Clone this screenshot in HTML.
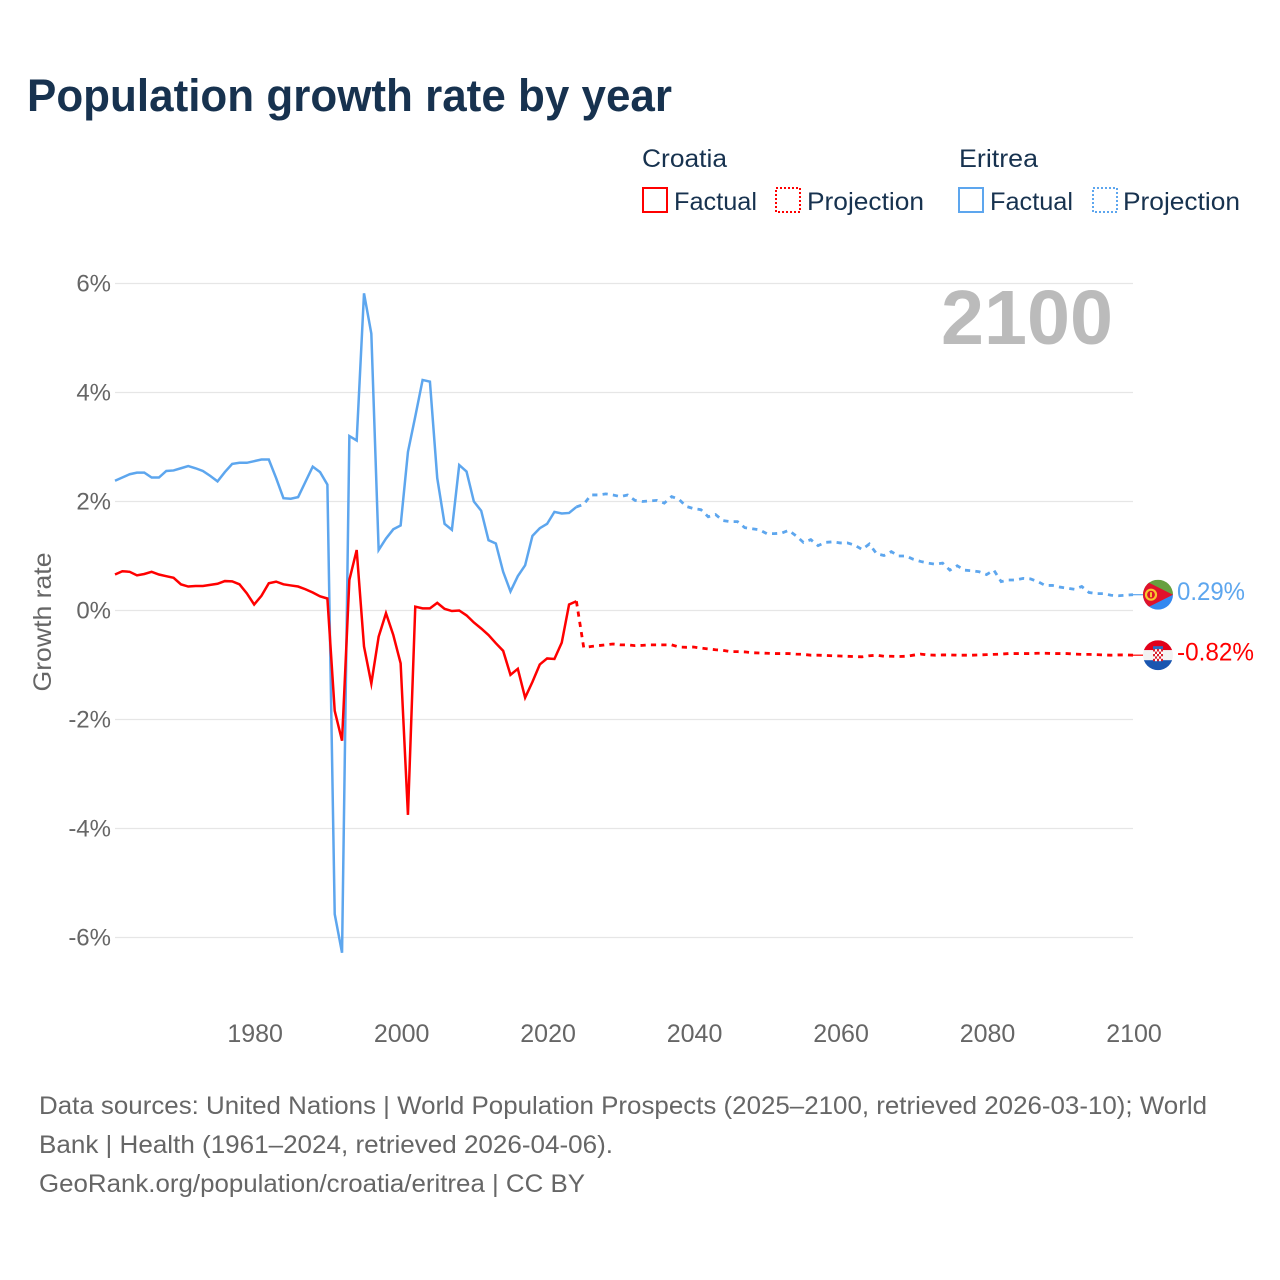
<!DOCTYPE html>
<html lang="en">
<head>
<meta charset="utf-8">
<title>Population growth rate by year</title>
<style>
html,body{margin:0;padding:0;background:#fff;}
svg{display:block;font-family:"Liberation Sans",sans-serif;}
</style>
</head>
<body>
<svg id="chart" width="1280" height="1280" viewBox="0 0 1280 1280" xmlns="http://www.w3.org/2000/svg">
  <rect width="1280" height="1280" fill="#ffffff"/>
  <text x="27" y="111" font-size="45" font-weight="700" fill="#17324f" textLength="645" lengthAdjust="spacingAndGlyphs">Population growth rate by year</text>

  <g font-size="25" fill="#17324f">
    <text x="642" y="167" textLength="85" lengthAdjust="spacingAndGlyphs">Croatia</text>
    <rect x="643" y="188" width="24" height="24" fill="none" stroke="#ff0000" stroke-width="2"/>
    <text x="674" y="210" textLength="83" lengthAdjust="spacingAndGlyphs">Factual</text>
    <rect x="776" y="188" width="24" height="24" fill="none" stroke="#ff0000" stroke-width="2" stroke-dasharray="2 2"/>
    <text x="807" y="210" textLength="117" lengthAdjust="spacingAndGlyphs">Projection</text>
    <text x="959" y="167" textLength="79" lengthAdjust="spacingAndGlyphs">Eritrea</text>
    <rect x="959" y="188" width="24" height="24" fill="none" stroke="#5da6ee" stroke-width="2"/>
    <text x="990" y="210" textLength="83" lengthAdjust="spacingAndGlyphs">Factual</text>
    <rect x="1093" y="188" width="24" height="24" fill="none" stroke="#5da6ee" stroke-width="2" stroke-dasharray="2 2"/>
    <text x="1123" y="210" textLength="117" lengthAdjust="spacingAndGlyphs">Projection</text>
  </g>

  <g id="grid"></g>
  <g id="yticks" font-size="24" fill="#666666" text-anchor="end"></g>
  <g id="xticks" font-size="25" fill="#666666" text-anchor="middle"></g>

  <text transform="translate(51 622) rotate(-90)" font-size="25" fill="#666666" text-anchor="middle" textLength="139" lengthAdjust="spacingAndGlyphs">Growth rate</text>
  <text x="941" y="344" font-size="77" font-weight="700" fill="#bbbbbb" textLength="172" lengthAdjust="spacingAndGlyphs">2100</text>

  <g id="series"></g>
  <g id="ends"></g>

  <g font-size="25" fill="#666666">
    <text x="39" y="1114" textLength="1168" lengthAdjust="spacingAndGlyphs">Data sources: United Nations | World Population Prospects (2025–2100, retrieved 2026-03-10); World</text>
    <text x="39" y="1153" textLength="574" lengthAdjust="spacingAndGlyphs">Bank | Health (1961–2024, retrieved 2026-04-06).</text>
    <text x="39" y="1192" textLength="546" lengthAdjust="spacingAndGlyphs">GeoRank.org/population/croatia/eritrea | CC BY</text>
  </g>
</svg>
<script>
const yTickValues = [6, 4, 2, 0, -2, -4, -6];
const xTickYears = [1980, 2000, 2020, 2040, 2060, 2080, 2100];
const factualStartYear = 1961;
const projectionStartYear = 2024;

const croatiaFactual = [0.66,0.72,0.71,0.645,0.67,0.71,0.66,0.63,0.60,0.48,0.44,0.45,0.45,0.47,0.49,0.54,0.535,0.48,0.315,0.11,0.27,0.50,0.53,0.48,0.46,0.44,0.39,0.33,0.26,0.22,-1.84,-2.39,0.56,1.11,-0.66,-1.34,-0.48,-0.05,-0.45,-0.97,-3.75,0.07,0.04,0.04,0.14,0.03,-0.01,0.00,-0.09,-0.22,-0.33,-0.45,-0.60,-0.74,-1.18,-1.07,-1.60,-1.31,-0.99,-0.88,-0.89,-0.59,0.11,0.17];
const croatiaProjection = [0.17,-0.68,-0.66,-0.645,-0.63,-0.615,-0.63,-0.63,-0.645,-0.64,-0.63,-0.63,-0.63,-0.63,-0.67,-0.675,-0.67,-0.69,-0.705,-0.72,-0.73,-0.755,-0.755,-0.76,-0.775,-0.78,-0.785,-0.79,-0.79,-0.79,-0.80,-0.805,-0.82,-0.82,-0.825,-0.83,-0.835,-0.84,-0.845,-0.85,-0.83,-0.82,-0.84,-0.84,-0.845,-0.84,-0.82,-0.80,-0.815,-0.82,-0.815,-0.815,-0.82,-0.82,-0.82,-0.815,-0.81,-0.805,-0.80,-0.79,-0.79,-0.79,-0.79,-0.785,-0.785,-0.79,-0.79,-0.79,-0.80,-0.805,-0.805,-0.81,-0.815,-0.82,-0.815,-0.815,-0.82];
const eritreaFactual = [2.38,2.44,2.50,2.53,2.53,2.44,2.44,2.56,2.57,2.61,2.65,2.61,2.56,2.47,2.37,2.54,2.69,2.71,2.71,2.74,2.77,2.77,2.43,2.06,2.05,2.08,2.36,2.64,2.54,2.31,-5.57,-6.28,3.20,3.12,5.82,5.08,1.11,1.32,1.49,1.56,2.91,3.56,4.23,4.20,2.43,1.59,1.48,2.67,2.55,2.00,1.83,1.29,1.23,0.71,0.35,0.63,0.83,1.37,1.51,1.59,1.81,1.78,1.79,1.90];
const eritreaProjection = [1.90,1.95,2.12,2.12,2.14,2.12,2.09,2.12,2.02,2.00,2.01,2.02,1.97,2.09,2.04,1.91,1.87,1.85,1.72,1.76,1.65,1.63,1.63,1.52,1.50,1.48,1.41,1.41,1.42,1.47,1.37,1.25,1.30,1.19,1.25,1.26,1.24,1.24,1.20,1.12,1.22,1.04,1.01,1.08,1.00,1.00,0.94,0.90,0.87,0.85,0.87,0.74,0.82,0.74,0.73,0.71,0.66,0.74,0.53,0.56,0.56,0.59,0.58,0.53,0.46,0.46,0.43,0.41,0.39,0.44,0.33,0.31,0.31,0.28,0.27,0.28,0.29];

const SVG_NS = 'http://www.w3.org/2000/svg';
const RED = '#ff0000';
const BLUE = '#5da6ee';
function xScale(year) { return 115 + (year - 1961) * (1133 - 115) / (2100 - 1961); }
function yScale(value) { return 610.5 - value * 54.5; }
function make(tag, attrs, parent) {
  const el = document.createElementNS(SVG_NS, tag);
  for (const k in attrs) el.setAttribute(k, attrs[k]);
  parent.appendChild(el);
  return el;
}
const gridGroup = document.getElementById('grid');
const yTickGroup = document.getElementById('yticks');
const xTickGroup = document.getElementById('xticks');
const seriesGroup = document.getElementById('series');
const endsGroup = document.getElementById('ends');

yTickValues.forEach(function (v) {
  const line = make('line', { x1: 115, x2: 1133, y1: yScale(v), y2: yScale(v), stroke: '#e6e6e6', 'stroke-width': 1.2 }, gridGroup);
  
  
  const label = make('text', { x: 111, y: yScale(v) + 8 }, yTickGroup);
  
  
  label.textContent = v + '%';
});
xTickYears.forEach(function (year) {
  const label = make('text', { x: xScale(year) + 1, y: 1042 }, xTickGroup);
  
  
  label.textContent = year;
});

function drawSeries(values, startYear, color, dashed) {
  const d = values.map(function (v, i) {
    return (i ? 'L' : 'M') + xScale(startYear + i).toFixed(2) + ' ' + yScale(v).toFixed(2);
  }).join('');
  const attrs = { d: d, fill: 'none', stroke: color, 'stroke-width': dashed ? 2.8 : 2.5, 'stroke-linejoin': 'miter', 'stroke-miterlimit': 6 };
  if (dashed) attrs['stroke-dasharray'] = '5.2 5.2';
  return make('path', attrs, seriesGroup);
}
const eritreaFactualLine = drawSeries(eritreaFactual, factualStartYear, BLUE, false);


const eritreaProjectionLine = drawSeries(eritreaProjection, projectionStartYear, BLUE, true);


const croatiaFactualLine = drawSeries(croatiaFactual, factualStartYear, RED, false);


const croatiaProjectionLine = drawSeries(croatiaProjection, projectionStartYear, RED, true);



const clipDefs = make('defs', {}, endsGroup);
function makeFlagGroup(id, cy) {
  const clip = make('clipPath', { id: id }, clipDefs);
  make('circle', { cx: 1158, cy: cy, r: 15 }, clip);
  return make('g', { 'clip-path': 'url(#' + id + ')' }, endsGroup);
}
function drawEnd(values, color, labelWidth) {
  const last = values[values.length - 1];
  const cy = yScale(last);
  const connector = make('line', { x1: 1133, x2: 1143, y1: cy, y2: cy, stroke: color, 'stroke-width': 1.2 }, endsGroup);
  
  
  const label = make('text', { x: 1177, y: cy + 5.5, 'font-size': 25, fill: color, textLength: labelWidth, lengthAdjust: 'spacingAndGlyphs' }, endsGroup);
  
  
  label.textContent = last.toFixed(2) + '%';
  return cy;
}

const eritreaY = drawEnd(eritreaProjection, BLUE, 68);
const eritreaFlag = makeFlagGroup('clip-er', eritreaY);


make('rect', { x: 1143, y: eritreaY - 15, width: 30, height: 15, fill: '#66a03f' }, eritreaFlag);
make('rect', { x: 1143, y: eritreaY, width: 30, height: 15, fill: '#3388f0' }, eritreaFlag);
make('polygon', { points: [1143, eritreaY - 15, 1173, eritreaY, 1143, eritreaY + 15].join(' '), fill: '#e0112b' }, eritreaFlag);
make('circle', { cx: 1151, cy: eritreaY, r: 5, fill: 'none', stroke: '#f6c52f', 'stroke-width': 2.2 }, eritreaFlag);
make('rect', { x: 1150, y: eritreaY - 2.5, width: 2, height: 5, fill: '#f6c52f' }, eritreaFlag);

const croatiaY = drawEnd(croatiaProjection, RED, 77);
const croatiaFlag = makeFlagGroup('clip-hr', croatiaY);


make('rect', { x: 1143, y: croatiaY - 15, width: 30, height: 10, fill: '#e2001a' }, croatiaFlag);
make('rect', { x: 1143, y: croatiaY - 5, width: 30, height: 10, fill: '#f2f2f2' }, croatiaFlag);
make('rect', { x: 1143, y: croatiaY + 5, width: 30, height: 10, fill: '#1a56b0' }, croatiaFlag);
make('rect', { x: 1153, y: croatiaY - 9, width: 10, height: 3, fill: '#2b6cc4' }, croatiaFlag);
for (let r = 0; r < 5; r++) {
  for (let c = 0; c < 5; c++) {
    make('rect', { x: 1153 + c * 2, y: croatiaY - 6 + r * 2.4, width: 2, height: 2.4, fill: (r + c) % 2 ? '#ffffff' : '#d8202f' }, croatiaFlag);
  }
}
</script>
</body>
</html>
